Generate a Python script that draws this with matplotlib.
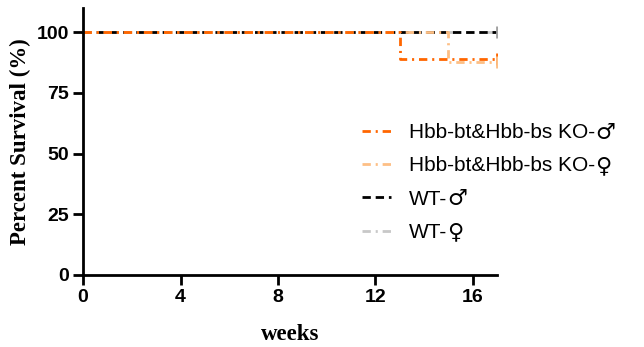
import matplotlib.pyplot as plt

plt.rcParams['lines.scale_dashes'] = False

# Kaplan-Meier step data (weeks, percent survival)
ko_male_weeks = [0, 13, 13, 17]
ko_male_surv = [100, 100, 88.9, 88.9]
ko_female_weeks = [0, 15, 15, 17]
ko_female_surv = [100, 100, 87.5, 87.5]
wt_male_weeks = [0, 17]
wt_male_surv = [100, 100]
wt_female_weeks = [0, 17]
wt_female_surv = [100, 100]

x_ticks = [0, 4, 8, 12, 16]
y_ticks = [0, 25, 50, 75, 100]

group_names = ['Hbb-bt&Hbb-bs KO-', 'Hbb-bt&Hbb-bs KO-', 'WT-', 'WT-']
group_signs = ['♂', '♀', '♂', '♀']

fig = plt.figure(figsize=(6.44, 3.47), dpi=100)
ax = fig.add_axes([0.129, 0.2075, 0.643, 0.77])

lw = 2
h_wtf, = ax.plot(wt_female_weeks, wt_female_surv, color='#c8c8c8', lw=lw,
                 dashes=(6, 3.5, 1.5, 3.5))
h_wtm, = ax.plot(wt_male_weeks, wt_male_surv, color='black', lw=lw,
                 dashes=(6, 3.5))
h_kof, = ax.plot(ko_female_weeks, ko_female_surv, color='#fdbf85', lw=lw,
                 dashes=(6, 3.5, 1.5, 3.5))
h_kom, = ax.plot(ko_male_weeks, ko_male_surv, color='#ff6600', lw=lw,
                 dashes=(6, 3.5, 1.5, 3.5))

# censor marks at end of follow-up
ax.plot([17], [100], marker='|', ms=8, mew=2, color='#a0a0a0')
ax.plot([17], [88.9], marker='|', ms=8, mew=2, color='#ff6600')
ax.plot([17], [87.5], marker='|', ms=8, mew=2, color='#fdbf85')

ax.set_xlim(0, 17)
ax.set_ylim(0, 110)
ax.set_xticks(x_ticks)
ax.set_yticks(y_ticks)
for s in ['top', 'right']:
    ax.spines[s].set_visible(False)
for s in ['left', 'bottom']:
    ax.spines[s].set_linewidth(2)
ax.tick_params(width=2, length=7, labelsize=14, pad=3)
for t in ax.get_xticklabels() + ax.get_yticklabels():
    t.set_fontweight('bold')
    t.set_family('Liberation Sans')

ax.set_xlabel('weeks', family='Liberation Serif', fontweight='bold', fontsize=16.5, labelpad=13)
ax.set_ylabel('Percent Survival (%)', family='Liberation Serif', fontweight='bold', fontsize=16.5, labelpad=4)

leg = ax.legend([h_kom, h_kof, h_wtm, h_wtf], group_names,
                loc='center left', bbox_to_anchor=(0.628, 0.346), frameon=False,
                prop={'family': 'Liberation Sans', 'size': 15},
                handlelength=1.4, handletextpad=0.85, labelspacing=0.68)

# gender signs drawn after each legend entry in a font with larger glyphs
fig.canvas.draw()
inv = fig.transFigure.inverted()
for txt, sign in zip(leg.get_texts(), group_signs):
    bb = txt.get_window_extent()
    x0, y0 = inv.transform((bb.x1 + 0.5, (bb.y0 + bb.y1) / 2))
    fig.text(x0, y0, sign, family='DejaVu Sans', fontsize=16, ha='left', va='center')

fig.savefig('out.png', dpi=100)
